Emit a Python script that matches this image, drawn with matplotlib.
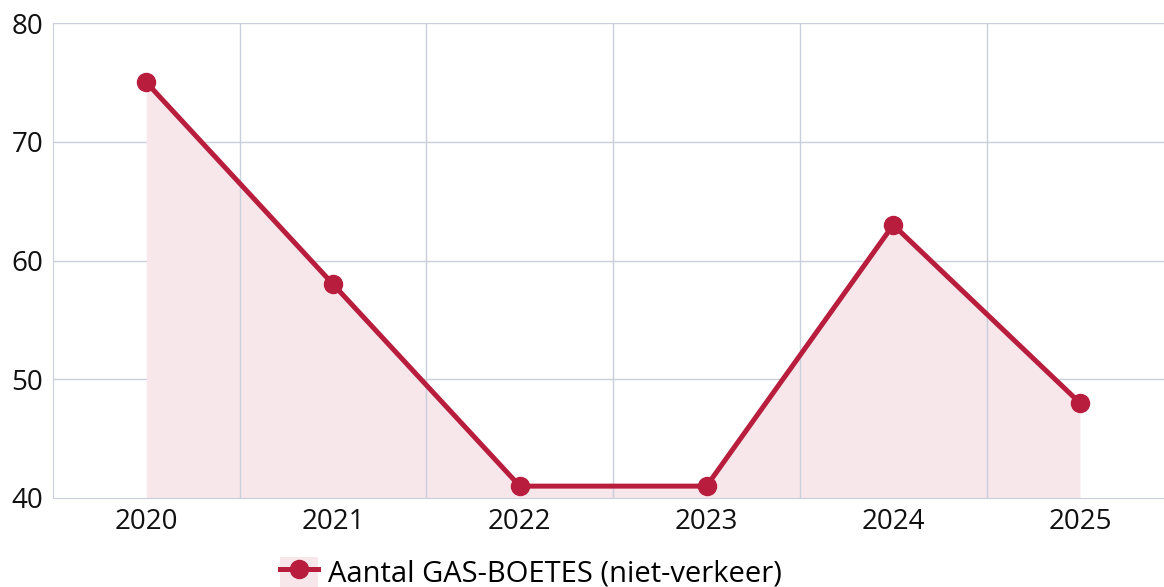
import matplotlib.pyplot as plt
import numpy as np
from matplotlib.patches import Patch
from matplotlib.lines import Line2D

years = ["2020", "2021", "2022", "2023", "2024", "2025"]
fines = [75, 58, 41, 41, 63, 48]
label = "Aantal GAS-BOETES (niet-verkeer)"

line_color = "#B81D3E"
fill_color = "#F7E6EA"
grid_color = "#C9D0DB"

plt.rcParams['font.family'] = ['Open Sans', 'DejaVu Sans']

fig = plt.figure(figsize=(11.64, 5.87), dpi=100)
ax = fig.add_axes([53 / 1164, 89 / 587, 1 - 53 / 1164, 475 / 587])

x = np.arange(len(years))
ax.fill_between(x, fines, 40, color=fill_color, linewidth=0, zorder=1)
ax.plot(x, fines, color=line_color, linewidth=3.6, marker="o",
        markersize=13, zorder=3, clip_on=False)

ax.set_xlim(-0.5, 5.45)
ax.set_ylim(40, 80)
ax.set_yticks([40, 50, 60, 70, 80])
ax.set_xticks(x)
ax.set_xticklabels(years)

# grid: horizontal at ticks, vertical at category boundaries
for v in [50, 60, 70, 80]:
    ax.axhline(v, color=grid_color, linewidth=1, zorder=0.5)
for b in np.arange(0.5, 5, 1):
    ax.axvline(b, color=grid_color, linewidth=1, zorder=2)

for s in ["right", "top"]:
    ax.spines[s].set_visible(False)
ax.spines["left"].set_color(grid_color)
ax.spines["bottom"].set_color(grid_color)
ax.tick_params(length=0, labelsize=20, colors="#111111", pad=7)
ax.tick_params(axis="y", pad=7)

handle = (Patch(facecolor=fill_color, edgecolor="none"),
          Line2D([], [], color=line_color, linewidth=3.6, marker="o", markersize=13))
fig.legend([handle], [label], loc="center", bbox_to_anchor=(0.456, 0.024),
           frameon=False, fontsize=21, handlelength=1.3, handleheight=1.2,
           handletextpad=0.35)

fig.savefig("out.png", dpi=100)
